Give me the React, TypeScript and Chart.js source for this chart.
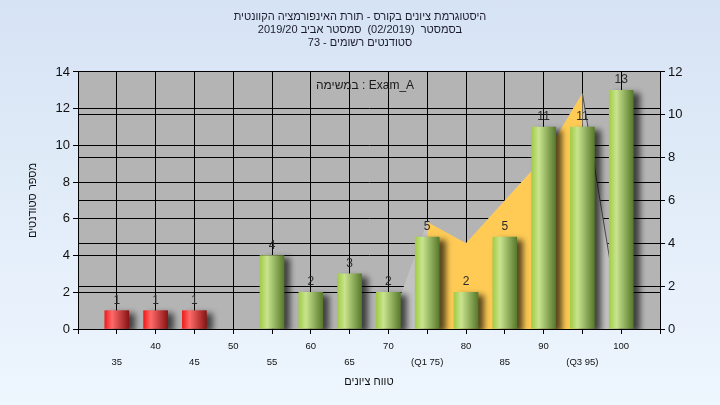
import { useEffect, useRef } from 'react';
import { Chart, registerables } from 'chart.js';

Chart.register(...registerables);

const grades = [35, 40, 45, 50, 55, 60, 65, 70, 75, 80, 85, 90, 95, 100];
const studentCounts = [1, 1, 1, 0, 4, 2, 3, 2, 5, 2, 5, 11, 11, 13];
const curveValues: (number | null)[] = [null, null, null, null, null, null, null, 0, 5, 4, 6, 8, 11, 0];
const gradeTickLabels = ['35', '40', '45', '50', '55', '60', '65', '70', '(Q1 75)', '80', '85', '90', '(Q3 95)', '100'];
const titleLines = [
  'היסטוגרמת ציונים בקורס - תורת האינפורמציה הקוונטית',
  'בסמסטר  (02/2019)  סמסטר אביב 2019/20',
  'סטודנטים רשומים - 73',
];
const taskLabel = 'במשימה : Exam_A';
const xAxisTitle = 'טווח ציונים';
const yAxisTitle = 'מספר סטודנטים';
const failLimit = 55;
const q1Grade = 75;
const q3Grade = 95;

const FONT = "'Liberation Sans', Arial, sans-serif";
const NARROW = "'Liberation Sans Narrow', 'Liberation Sans', Arial, sans-serif";

const barPoints = grades.map((g, i) => ({ x: g, y: studentCounts[i] > 0 ? studentCounts[i] : null }));
const grayPoints = grades
  .map((g, i) => ({ x: g, y: curveValues[i] }))
  .filter((p) => p.y !== null) as { x: number; y: number }[];
const yellowPoints = grayPoints.filter((p) => p.x >= q1Grade && p.x <= q3Grade);

const plotBg = {
  id: 'plotBg',
  beforeDraw(chart: any) {
    const { ctx, chartArea } = chart;
    if (!chartArea) return;
    ctx.save();
    ctx.fillStyle = '#b4b4b4';
    ctx.fillRect(chartArea.left, chartArea.top, chartArea.right - chartArea.left, chartArea.bottom - chartArea.top);
    ctx.restore();
  },
};

const barShadow = {
  id: 'barShadow',
  beforeDatasetDraw(chart: any, args: any) {
    if (args.meta.type !== 'bar') return;
    const c = chart.ctx;
    c.save();
    c.shadowColor = 'rgba(0,0,0,0.65)';
    c.shadowBlur = 6;
    c.shadowOffsetX = 6;
    c.shadowOffsetY = 3;
  },
  afterDatasetDraw(chart: any, args: any) {
    if (args.meta.type !== 'bar') return;
    chart.ctx.restore();
  },
};

const barValues = {
  id: 'barValues',
  afterDatasetsDraw(chart: any) {
    const c = chart.ctx;
    chart.data.datasets.forEach((ds: any, di: number) => {
      const meta = chart.getDatasetMeta(di);
      if (meta.type !== 'bar') return;
      meta.data.forEach((el: any, i: number) => {
        const v = ds.data[i].y;
        if (!v) return;
        c.save();
        c.font = `12px ${FONT}`;
        c.fillStyle = '#2a2a2a';
        c.textAlign = 'center';
        c.textBaseline = 'alphabetic';
        c.fillText(String(v), el.x, el.y - 7);
        c.restore();
      });
    });
    const ca = chart.chartArea;
    c.save();
    c.font = `12px ${FONT}`;
    c.fillStyle = '#1a1a1a';
    c.textAlign = 'center';
    c.textBaseline = 'middle';
    c.fillText(taskLabel, (ca.left + ca.right) / 2 - 4, ca.top + 14);
    c.restore();
  },
};

function barFill(ctx: any) {
  const chart = ctx.chart;
  const xs = chart.scales && chart.scales.x;
  const raw = ctx.raw;
  const fail = raw && raw.x < failLimit;
  const flat = fail ? '#d02020' : '#98c048';
  if (!xs || !raw) return flat;
  const cx = xs.getPixelForValue(raw.x);
  if (!Number.isFinite(cx)) return flat;
  const g = chart.ctx.createLinearGradient(cx - 12, 0, cx + 12, 0);
  if (fail) {
    g.addColorStop(0, '#ee1c1c');
    g.addColorStop(0.3, '#ff6a6a');
    g.addColorStop(1, '#8a1414');
  } else {
    g.addColorStop(0, '#a2cc48');
    g.addColorStop(0.3, '#c9e48e');
    g.addColorStop(1, '#587a2c');
  }
  return g;
}

export default function App() {
  const ref = useRef<HTMLCanvasElement | null>(null);
  useEffect(() => {
    if (!ref.current) return;
    const chart = new Chart(ref.current, {
      type: 'bar',
      data: {
        datasets: [
          {
            type: 'bar',
            data: barPoints as any,
            yAxisID: 'y',
            backgroundColor: barFill as any,
            borderWidth: 0,
            barThickness: 24,
            order: 0,
          } as any,
          {
            type: 'line',
            data: yellowPoints as any,
            yAxisID: 'y1',
            backgroundColor: '#ffcb55',
            borderColor: 'rgba(0,0,0,0)',
            borderWidth: 0,
            pointRadius: 0,
            fill: 'origin',
            tension: 0,
            order: 1,
          } as any,
          {
            type: 'line',
            data: grayPoints as any,
            yAxisID: 'y1',
            backgroundColor: '#c2c2c2',
            borderWidth: 1,
            borderColor: 'rgba(0,0,0,0)',
            segment: {
              borderColor: (s: any) => (s.p0.parsed.x >= q3Grade ? '#4a4a4a' : 'rgba(0,0,0,0)'),
            },
            pointRadius: 0,
            fill: 'origin',
            tension: 0,
            order: 2,
          } as any,
        ],
      },
      options: {
        animation: false,
        responsive: false,
        devicePixelRatio: 1,
        layout: { padding: 0 },
        plugins: {
          legend: { display: false },
          tooltip: { enabled: false },
          title: {
            display: true,
            text: titleLines,
            color: '#1c1c2c',
            font: { family: FONT, size: 11, weight: 'normal', lineHeight: 1.15 },
            padding: { top: 11, bottom: 23 },
          },
        },
        scales: {
          x: {
            type: 'linear',
            min: 30,
            max: 105,
            offset: false,
            afterFit: (s: any) => { s.height = 76; },
            grid: { color: '#000', lineWidth: 1, offset: false, drawTicks: true, tickLength: 5 },
            border: { color: '#000' },
            ticks: {
              stepSize: 5,
              autoSkip: false,
              maxRotation: 0,
              padding: 4,
              color: '#111',
              font: { family: NARROW, size: 9.5, lineHeight: 1.7 },
              callback: (v: any) => {
                const i = grades.indexOf(Number(v));
                if (i < 0) return '';
                return i % 2 === 1 ? [gradeTickLabels[i], ''] : ['', gradeTickLabels[i]];
              },
            },
            title: {
              display: true,
              text: xAxisTitle,
              color: '#111',
              font: { family: NARROW, size: 11 },
              padding: { top: 0, bottom: 16.5 },
            },
          },
          y: {
            position: 'left',
            min: 0,
            max: 14,
            afterFit: (s: any) => { s.width = 78; },
            grid: { color: '#000', lineWidth: 1, tickLength: 5 },
            border: { color: '#000' },
            ticks: { stepSize: 2, padding: 3, color: '#111', font: { family: FONT, size: 13 } },
            title: {
              display: true,
              text: yAxisTitle,
              color: '#111',
              font: { family: NARROW, size: 11 },
              padding: { top: 26, bottom: 0 },
            },
          },
          y1: {
            position: 'right',
            min: 0,
            max: 12,
            afterFit: (s: any) => { s.width = 60; },
            grid: { color: '#000', lineWidth: 1, tickLength: 5 },
            border: { color: '#000' },
            ticks: { stepSize: 2, padding: 3, color: '#111', font: { family: FONT, size: 13 } },
          },
        },
      } as any,
      plugins: [plotBg, barShadow, barValues],
    });
    return () => chart.destroy();
  }, []);
  return (
    <div
      style={{
        position: 'fixed',
        left: 0,
        top: 0,
        width: 720,
        height: 405,
        background: 'linear-gradient(to bottom, #d6e3f4, #eef6fe)',
      }}
    >
      <canvas ref={ref} width={720} height={405} style={{ width: 720, height: 405, display: 'block' }} />
    </div>
  );
}
